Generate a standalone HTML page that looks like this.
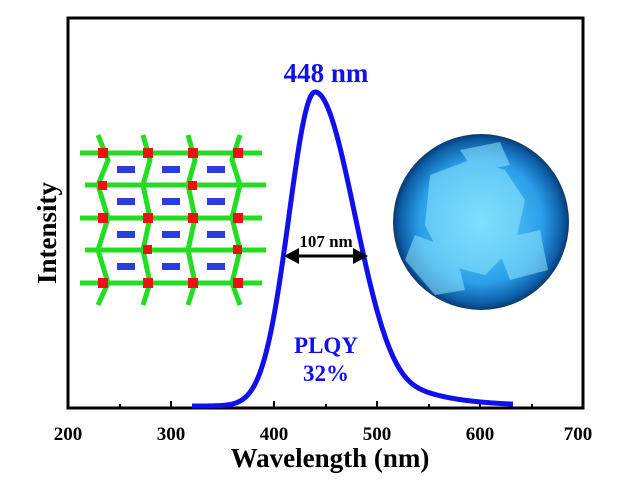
<!DOCTYPE html>
<html><head><style>body{margin:0;background:#fff}svg{display:block}</style></head><body>
<svg width="629" height="481" xmlns="http://www.w3.org/2000/svg" font-family="Liberation Serif, serif" font-weight="bold">
<rect x="68" y="18" width="515" height="390" fill="none" stroke="#000" stroke-width="3"/>
<g stroke="#000" stroke-width="2">
<line x1="68" y1="408" x2="68" y2="401"/><line x1="171" y1="408" x2="171" y2="401"/><line x1="274" y1="408" x2="274" y2="401"/><line x1="377" y1="408" x2="377" y2="401"/><line x1="480" y1="408" x2="480" y2="401"/><line x1="583" y1="408" x2="583" y2="401"/>
<line x1="120" y1="408" x2="120" y2="404"/><line x1="223" y1="408" x2="223" y2="404"/><line x1="326" y1="408" x2="326" y2="404"/><line x1="429" y1="408" x2="429" y2="404"/><line x1="532" y1="408" x2="532" y2="404"/>
</g>
<g font-size="19" text-anchor="middle">
<text x="68" y="440">200</text><text x="171" y="440">300</text><text x="274" y="440">400</text><text x="377" y="440">500</text><text x="480" y="440">600</text><text x="578" y="440">700</text>
</g>
<text x="330" y="467" font-size="27" text-anchor="middle">Wavelength (nm)</text>
<text transform="translate(56,233) rotate(-90)" font-size="27" text-anchor="middle">Intensity</text>
<defs><radialGradient id="g" cx="50%" cy="50%" r="50%"><stop offset="0" stop-color="#6ad8ff"/><stop offset="0.7" stop-color="#2a9ee8"/><stop offset="0.92" stop-color="#0d5fa8"/><stop offset="1" stop-color="#0a3a70"/></radialGradient></defs>
<circle cx="481" cy="222" r="88" fill="url(#g)"/>
<g fill="#8fe8ff" opacity="0.55"><polygon points="430,175 470,160 505,170 525,200 515,245 485,275 445,265 425,225"/><polygon points="460,150 500,142 510,165 475,172"/><polygon points="415,235 455,250 465,290 435,295 405,260"/><polygon points="495,240 540,230 548,270 510,280"/></g>
<g>
<g stroke="#22dd22" stroke-width="5">
<line x1="80" y1="153" x2="262" y2="153"/><line x1="85" y1="185" x2="266" y2="185"/><line x1="80" y1="218" x2="262" y2="218"/><line x1="85" y1="250" x2="266" y2="250"/><line x1="80" y1="283" x2="262" y2="283"/>
<polyline points="98,135 108,160 98,185 108,218 98,250 108,283 98,305" fill="none"/>
<polyline points="143,135 150,160 143,185 150,218 143,250 150,283 143,305" fill="none"/>
<polyline points="188,135 195,160 188,185 195,218 188,250 195,283 188,305" fill="none"/>
<polyline points="240,135 232,160 240,185 232,218 240,250 232,283 240,305" fill="none"/>
</g>
<g fill="#ee1111">
<rect x="98" y="148" width="10" height="10"/><rect x="143" y="148" width="10" height="10"/><rect x="188" y="148" width="10" height="10"/><rect x="233" y="148" width="10" height="10"/>
<rect x="98" y="213" width="10" height="10"/><rect x="143" y="213" width="10" height="10"/><rect x="188" y="213" width="10" height="10"/><rect x="233" y="213" width="10" height="10"/>
<rect x="98" y="278" width="10" height="10"/><rect x="143" y="278" width="10" height="10"/><rect x="188" y="278" width="10" height="10"/><rect x="233" y="278" width="10" height="10"/>
<rect x="98" y="181" width="9" height="9"/><rect x="143" y="245" width="9" height="9"/><rect x="188" y="181" width="9" height="9"/><rect x="233" y="245" width="9" height="9"/>
</g>
<g fill="#2a3ee0">
<rect x="117" y="166" width="18" height="7"/><rect x="162" y="166" width="18" height="7"/><rect x="207" y="166" width="18" height="7"/>
<rect x="117" y="198" width="18" height="7"/><rect x="162" y="198" width="18" height="7"/><rect x="207" y="198" width="18" height="7"/>
<rect x="117" y="231" width="18" height="7"/><rect x="162" y="231" width="18" height="7"/><rect x="207" y="231" width="18" height="7"/>
<rect x="117" y="263" width="18" height="7"/><rect x="162" y="263" width="18" height="7"/><rect x="207" y="263" width="18" height="7"/>
</g>
</g>
<path id="c" fill="none" stroke="#1010ee" stroke-width="5" stroke-linejoin="round"/>
<text x="326" y="82" font-size="27" fill="#1010ee" text-anchor="middle">448 nm</text>
<text x="326" y="247" font-size="17" text-anchor="middle">107 nm</text>
<line x1="294" y1="256" x2="358" y2="256" stroke="#000" stroke-width="3"/>
<polygon points="284,256 299,248 299,264" fill="#000"/><polygon points="368,256 353,248 353,264" fill="#000"/>
<text x="326" y="353" font-size="23" fill="#1010ee" text-anchor="middle">PLQY</text>
<text x="326" y="381" font-size="23" fill="#1010ee" text-anchor="middle">32%</text>
</svg>
<script>
var d="";
for(var x=192;x<=513;x+=0.5){var f;
if(x<=315){var t=(x-315)/26;f=Math.exp(-t*t/2);}
else{var t=(x-315)/40;var g=Math.exp(-t*t/2);var tl=0.6*Math.exp(-(x-315)/43)*(1-g);f=Math.pow(g*g*g+tl*tl*tl,1/3);}
var y=406-314*f;d+=(x==192?"M":"L")+x+","+y.toFixed(2);}
document.getElementById("c").setAttribute("d",d);
</script>
</body></html>
